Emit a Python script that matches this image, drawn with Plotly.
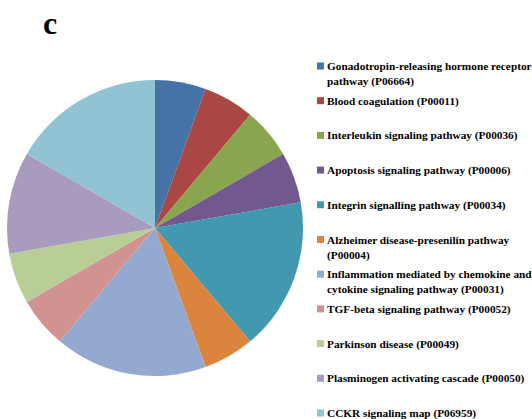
import plotly.graph_objects as go

# Pathway categories and gene counts per pathway
pathways = [
    "Gonadotropin-releasing hormone receptor<br>pathway (P06664)",
    "Blood coagulation (P00011)",
    "Interleukin signaling pathway (P00036)",
    "Apoptosis signaling pathway (P00006)",
    "Integrin signalling pathway (P00034)",
    "Alzheimer disease-presenilin pathway<br>(P00004)",
    "Inflammation mediated by chemokine and<br>cytokine signaling pathway (P00031)",
    "TGF-beta signaling pathway (P00052)",
    "Parkinson disease (P00049)",
    "Plasminogen activating cascade (P00050)",
    "CCKR signaling map (P06959)",
]
counts = [1, 1, 1, 1, 3, 1, 3, 1, 1, 2, 3]
colors = ["#4572A7", "#AA4643", "#89A54E", "#71588F", "#4198AF", "#DB843D",
          "#93A9CF", "#D19392", "#B9CD96", "#A99BBD", "#92C3D5"]

W, H = 532, 419
font_family = "Liberation Serif, Times New Roman, serif"

# pie placement in pixels
cx, cy, r = 155, 228, 148

fig = go.Figure(go.Pie(
    labels=[p.replace("<br>", " ") for p in pathways],
    values=counts,
    marker=dict(colors=colors, line=dict(width=0)),
    sort=False,
    direction="clockwise",
    rotation=0,
    textinfo="none",
    hoverinfo="label+value",
    showlegend=False,
    domain=dict(x=[(cx - r) / W, (cx + r) / W],
                y=[(H - cy - r) / H, (H - cy + r) / H]),
))

# hand-laid legend: colour square plus bold serif label for each pathway
leg_x0, leg_y0, leg_step = 317, 66, 34.7
shapes, annotations = [], []
for i, (name, col) in enumerate(zip(pathways, colors)):
    py = leg_y0 + i * leg_step
    shapes.append(dict(type="rect", xref="paper", yref="paper",
                       x0=leg_x0 / W, x1=(leg_x0 + 7) / W,
                       y0=1 - (py + 3.5) / H, y1=1 - (py - 3.5) / H,
                       fillcolor=col, line=dict(width=0)))
    annotations.append(dict(xref="paper", yref="paper", x=(leg_x0 + 8) / W,
                            y=1 - (py - 8) / H, xanchor="left", yanchor="top",
                            align="left", showarrow=False, text=f"<b>{name}</b>",
                            font=dict(family=font_family, size=11.3, color="#000000")))

# panel letter
annotations.append(dict(xref="paper", yref="paper", x=50 / W, y=1 - 23 / H,
                        xanchor="center", yanchor="middle", showarrow=False,
                        text="<b>c</b>",
                        font=dict(family=font_family, size=32, color="#000000")))

fig.update_layout(
    width=W, height=H,
    margin=dict(l=0, r=0, t=0, b=0),
    paper_bgcolor="white", plot_bgcolor="white",
    font=dict(family=font_family),
    shapes=shapes, annotations=annotations,
)

fig.write_html("out.html")
